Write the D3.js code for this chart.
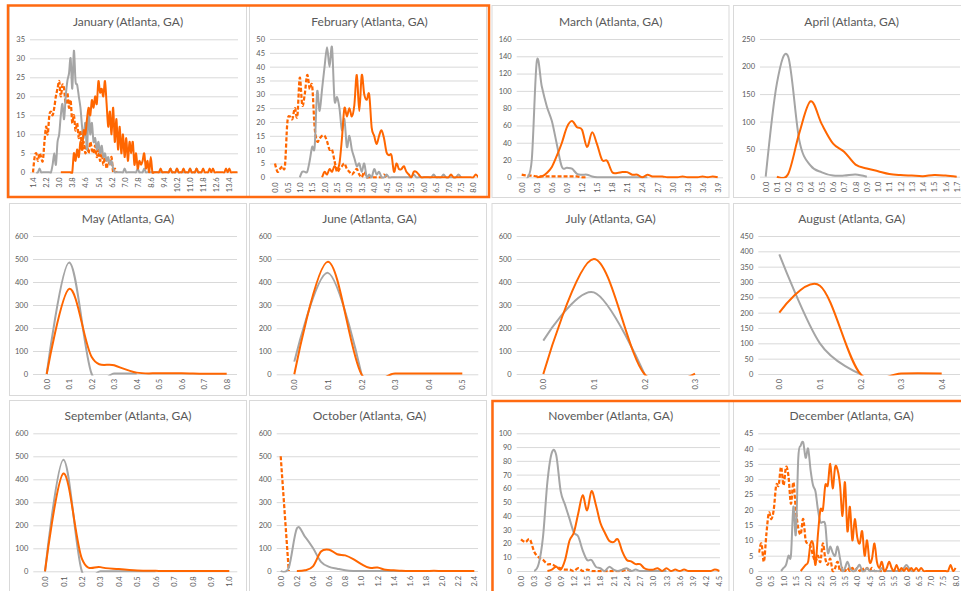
<!DOCTYPE html>
<html>
<head>
<meta charset="utf-8">
<style>
body { margin: 0; background: #fff; }
svg text { font-family: Lato, "Open Sans", sans-serif; fill: #595959; }
</style>
</head>
<body>
<svg width="961" height="591"></svg>
<script src="https://d3js.org/d3.v7.min.js"></script>
<script>

// ---- data (category step 0.1) ----
var janTicks = [1.4, 2.2, 3.0, 3.8, 4.6, 5.4, 6.2, 7.0, 7.8, 8.6, 9.4, 10.2, 11.0, 11.8, 12.6, 13.4];
var janDashed = [0,4,5,3,5,4,3,8,12,10, 15,16,15,17,20,22,24,20,23,22, 18,21,17,19,13,15,11,13,9,11,
                 6,8,5,7,5,8,6,5,7,4, 6,3,5,2,4,1,3,2,4,0, 1,0];
var janGray = [0,0,1,0,0,0,0,0,0,0, 2,5,2,8,10,15,18,14,20,24, 26,30,22,32,24,23,20,17,12,9,
               13,6,16,10,13,8,9,6,8,5, 7,4,5,3,4,2,3,1,0,0, 0,0,0,0,1,0,0,0,0,0,
               0,0,1,0,0,0,1,0,0,0, 0,0,0,0,0,0,0,0,0,0, 0,0,1,0,0,0,1,0,0,0,
               0,0,0,0,1,0,0,0,1,0, 0,0];
var janOrange = [0,0,0,0,0,0,0,0, 5,3,6,4,8,6,11,10,14,17, 15,19,17,20,18,24,21,22,20,24,
                 18,12,16,10,17,8,14,6,12,5, 10,4,9,3,8,5,8,2,5,1, 3,2,3,5,1,3,0,4,0,0,
                 0,0,0,1,0,0,0,0,0,1, 0,0,0,1,0,0,0,1,0,0, 0,1,0,0,0,1,0,0,0,1,
                 0,0,0,1,0,1,0,0,0,0, 0,0,0,1,0,1,0,0,0,0, 0];

var febTicks = [0.0, 0.5, 1.0, 1.5, 2.0, 2.5, 3.0, 3.5, 4.0, 4.5, 5.0, 5.5, 6.0, 6.5, 7.0, 7.5, 8.0];
var febDashed = [5,2,3,4,4,20,22,21,25,22, 36,26,30,37,32,33,18,13,14,15, 15,13,10,10,6,2,3,4,5,3,
                 2,1,2,3,1,0,2,0,0,0, 0,0,0,0,1,0,0];
var febGray = [0,2,2,2,6,11,11,31,24,32, 40,47,40,47,28,29,25,17,21,11, 15,10,7,4,5,2,5,0,1,0,
               3,1,2,0,0,1,0,0,0,0, 0,0,0,0,0,0,1,0,0,0, 0,0,0,0,1,0,0,0,1,0, 0,0,0,0,1,0];
var febOrange = [0,2,1,3,2,4,3,5,14,25, 22,25,22,26,37,24,37,30,28,30, 18,15,12,15,17,14,9,8,8,2,
                 5,3,3,4,2,1,0,2,2,1, 0,0,0,0,0,0,0,0,0,0, 0,0,1,0,0,0,0,0,0,0, 0,0,1,0];

var marTicks = [0.0, 0.3, 0.6, 0.9, 1.2, 1.5, 1.8, 2.1, 2.4, 2.7, 3.0, 3.3, 3.6, 3.9];
var marDashed = [3,2,2,1,1,1,1,1,1,1,1,1,0,0];
var marGray = [0,20,134,105,82,65,38,12,11,10, 4,3,3,1,0,0,0,0,0,0, 0,0,0,0,0];
var marOrange = [0,1,5,12,25,40,58,65,58,55, 35,52,38,20,19,6,5,6,6,3, 3,0,3,1,1,1,0,0,0,1,
                 0,0,0,1,0,1,0];

var aprTicks = [0.0, 0.1, 0.2, 0.3, 0.4, 0.5, 0.6, 0.7, 0.8, 0.9, 1.0, 1.1, 1.2, 1.3, 1.4, 1.5, 1.6, 1.7];
var aprGray = [0,170,218,65,20,8,2,2,4,0];
var aprOrange = [0,5,80,137,95,60,45,22,15,10, 5,3,2,1,3,2,0];

var mayTicks = [0.0, 0.1, 0.2, 0.3, 0.4, 0.5, 0.6, 0.7, 0.8];
var mayGray = [0,485,0,2,2];
var mayOrange = [0,370,74,38,6,3,3,1,1];

var junTicks = [0.0, 0.1, 0.2, 0.3, 0.4, 0.5];
var junGray = [55,440,0];
var junOrange = [0,488,0,3,3,3];

var julTicks = [0.0, 0.1, 0.2, 0.3];
var julGray = [145,355,0];
var julOrange = [0,500,0,2];

var augTicks = [0.0, 0.1, 0.2, 0.3, 0.4];
var augGray = [390,100,0];
var augOrange = [200,288,0,2,2];

var sepTicks = [0.0, 0.1, 0.2, 0.3, 0.4, 0.5, 0.6, 0.7, 0.8, 0.9, 1.0];
var sepGray = [0,485,0,0,0,0,0];
var sepOrange = [0,425,55,18,10,4,2,1,1,1,1];

var octTicks = [0.0, 0.2, 0.4, 0.6, 0.8, 1.0, 1.2, 1.4, 1.6, 1.8, 2.0, 2.2, 2.4];
var octDashed = [500,0];
var octGray = [0,15,185,150,100,40,18,10,3,0, 0,0,0,0,0,0,0];
var octOrange = [0,3,20,85,93,73,68,52,30,14, 15,5,3,1,0,0,0,1,0,0, 0,0,0];

var novTicks = [0.0, 0.3, 0.6, 0.9, 1.2, 1.5, 1.8, 2.1, 2.4, 2.7, 3.0, 3.3, 3.6, 3.9, 4.2, 4.5];
var novDashed = [23,21,23,14,10,8,5,5,3,2, 1,1,0,2,0,1,0,0,0,0, 0,0,0,0,1,0];
var novGray = [0,5,25,65,86,84,58,48,38,28, 25,15,8,8,3,2,0,3,1,0, 1,2,0,1,0,0,0,0,0,0, 0];
var novOrange = [0,1,3,1,8,22,28,42,55,44, 58,48,35,28,22,21,23,14,8,7, 5,5,2,1,1,2,0,2,0,1,
                 0,1,0,0,0,0,0,0,1,0];

var decTicks = [0.0, 0.5, 1.0, 1.5, 2.0, 2.5, 3.0, 3.5, 4.0, 4.5, 5.0, 5.5, 6.0, 6.5, 7.0, 7.5, 8.0];
var decDashed = [6,9,3,12,19,17,20,28,28,34, 28,34,31,22,29,20,14,12,17,10, 9,8,5,3,5,3,9,4,2,4,
                 0,1,3,0,1,0,1,0,1,0, 1,0,1,0,1,0,1,0,0,0, 0];
var decGray = [0,1,2,5,5,21,12,37,41,42, 37,40,33,28,26,20,16,16,15,6, 8,6,5,8,4,0,1,3,1,0,
               0,1,2,0,0,1,0,0,0,0, 0,1,0,0,0,0,0,0,0,0, 1,2,1,0,0];
var decOrange = [0,1,2,3,9,9,2,12,20,20, 28,28,35,27,34,33,28,18,29,13, 21,10,17,11,9,13,5,10,3,4,
                 9,3,1,3,0,1,3,1,0,2, 0,1,0,1,0,1,0,1,0,1, 0,0,0,0,0,0,0,0,0,0, 0,2,0,1];

// ---- layout ----
var colLeft = [9, 249, 491.5, 733],
    rowTop = [5, 203, 400],
    panelW = 237, panelH = 192,
    titleX = [128, 369.5, 610.7, 851.7],
    titleY = [22, 219, 416];

var panels = [
  {title: "January (Atlanta, GA)", col: 0, row: 0, yMax: 35, yStep: 5, ticks: janTicks, tickPx: [33, 229.3], grid: [30, 238], yPx: [172.3, 39.3],
   series: [{kind: "dash", from: 1.4, values: janDashed}, {kind: "gray", from: 1.6, values: janGray}, {kind: "orange", from: 3.1, values: janOrange}]},
  {title: "February (Atlanta, GA)", col: 1, row: 0, yMax: 50, yStep: 5, ticks: febTicks, tickPx: [275, 473.3], grid: [270, 478], yPx: [177.3, 39],
   series: [{kind: "dash", from: 0, values: febDashed}, {kind: "gray", from: 1.0, values: febGray}, {kind: "orange", from: 1.9, values: febOrange}]},
  {title: "March (Atlanta, GA)", col: 2, row: 0, yMax: 160, yStep: 20, ticks: marTicks, tickPx: [521.7, 717.7], grid: [516.7, 723], yPx: [177.3, 39],
   series: [{kind: "dash", from: 0, values: marDashed}, {kind: "gray", from: 0.1, values: marGray}, {kind: "orange", from: 0.3, values: marOrange}]},
  {title: "April (Atlanta, GA)", col: 3, row: 0, yMax: 250, yStep: 50, ticks: aprTicks, tickPx: [765.7, 956.7], grid: [760, 960], yPx: [176.7, 39],
   series: [{kind: "gray", from: 0, values: aprGray}, {kind: "orange", from: 0.1, values: aprOrange}]},
  {title: "May (Atlanta, GA)", col: 0, row: 1, yMax: 600, yStep: 100, ticks: mayTicks, tickPx: [46.7, 226.7], grid: [33, 237], yPx: [374, 236],
   series: [{kind: "gray", from: 0, values: mayGray}, {kind: "orange", from: 0, values: mayOrange}]},
  {title: "June (Atlanta, GA)", col: 1, row: 1, yMax: 600, yStep: 100, ticks: junTicks, tickPx: [294.3, 462.3], grid: [276.7, 478.3], yPx: [374.3, 236],
   series: [{kind: "gray", from: 0, values: junGray}, {kind: "orange", from: 0, values: junOrange}]},
  {title: "July (Atlanta, GA)", col: 2, row: 1, yMax: 600, yStep: 100, ticks: julTicks, tickPx: [543.3, 695], grid: [516.7, 720], yPx: [374, 236],
   series: [{kind: "gray", from: 0, values: julGray}, {kind: "orange", from: 0, values: julOrange}]},
  {title: "August (Atlanta, GA)", col: 3, row: 1, yMax: 450, yStep: 50, ticks: augTicks, tickPx: [779.3, 941.7], grid: [758.3, 960], yPx: [374, 236],
   series: [{kind: "gray", from: 0, values: augGray}, {kind: "orange", from: 0, values: augOrange}]},
  {title: "September (Atlanta, GA)", col: 0, row: 2, yMax: 600, yStep: 100, ticks: sepTicks, tickPx: [45, 229.3], grid: [33.3, 237.3], yPx: [571.3, 433.3],
   series: [{kind: "gray", from: 0, values: sepGray}, {kind: "orange", from: 0, values: sepOrange}]},
  {title: "October (Atlanta, GA)", col: 1, row: 2, yMax: 600, yStep: 100, ticks: octTicks, tickPx: [280.7, 474.3], grid: [276.7, 478], yPx: [571, 433.3],
   series: [{kind: "dash", from: 0, values: octDashed}, {kind: "gray", from: 0, values: octGray}, {kind: "orange", from: 0.2, values: octOrange}]},
  {title: "November (Atlanta, GA)", col: 2, row: 2, yMax: 100, yStep: 10, ticks: novTicks, tickPx: [521, 719.3], grid: [516.7, 720], yPx: [571, 433.3],
   series: [{kind: "dash", from: 0, values: novDashed}, {kind: "gray", from: 0.3, values: novGray}, {kind: "orange", from: 0.6, values: novOrange}]},
  {title: "December (Atlanta, GA)", col: 3, row: 2, yMax: 45, yStep: 5, ticks: decTicks, tickPx: [759, 955.5], grid: [758.3, 960], yPx: [571, 433.3],
   series: [{kind: "dash", from: 0, values: decDashed}, {kind: "gray", from: 0.9, values: decGray}, {kind: "orange", from: 1.7, values: decOrange}]}
];

var styles = {
  gray:   {stroke: "#a5a5a5", width: 2, dash: null},
  orange: {stroke: "#ff6600", width: 2, dash: null},
  dash:   {stroke: "#ff6600", width: 2.25, dash: "4,2"}
};

var svg = d3.select("svg");
var fmt1 = d3.format(".1f");
var catStep = 0.1;

panels.forEach(function(p, i) {
  var g = svg.append("g");

  g.append("rect")
      .attr("x", colLeft[p.col] + 0.5)
      .attr("y", rowTop[p.row] + 0.5)
      .attr("width", panelW)
      .attr("height", panelH)
      .attr("fill", "#fff")
      .attr("stroke", "#d9d9d9");

  g.append("text")
      .attr("x", titleX[p.col])
      .attr("y", titleY[p.row])
      .attr("dy", "0.35em")
      .attr("text-anchor", "middle")
      .style("font-size", "12px")
      .text(p.title);

  var x = d3.scaleLinear()
      .domain([p.ticks[0], p.ticks[p.ticks.length - 1]])
      .range(p.tickPx);
  var y = d3.scaleLinear()
      .domain([0, p.yMax])
      .range(p.yPx);

  var yTicks = d3.range(0, p.yMax + 1, p.yStep);

  // y axis + horizontal gridlines
  var ya = g.append("g")
      .attr("transform", "translate(" + p.grid[0] + ",0)")
      .call(d3.axisLeft(y).tickValues(yTicks).tickSize(-(p.grid[1] - p.grid[0])).tickPadding(5));
  ya.select(".domain").remove();
  ya.selectAll("line").attr("stroke", "#d9d9d9");
  ya.selectAll("text").style("font-size", "7.5px").attr("fill", "#595959");

  // x axis labels, rotated
  var xa = g.append("g")
      .attr("transform", "translate(0," + p.yPx[0] + ")")
      .call(d3.axisBottom(x).tickValues(p.ticks).tickFormat(fmt1).tickSize(0));
  xa.select(".domain").remove();
  xa.selectAll("text")
      .attr("transform", "rotate(-90)")
      .attr("x", -5)
      .attr("y", 0)
      .attr("dy", "0.35em")
      .attr("text-anchor", "end")
      .style("font-size", "7.5px")
      .attr("fill", "#595959");

  // plot area clip
  svg.append("clipPath").attr("id", "clip" + i)
    .append("rect")
      .attr("x", p.grid[0])
      .attr("y", p.yPx[1] - 3)
      .attr("width", p.grid[1] - p.grid[0])
      .attr("height", p.yPx[0] - p.yPx[1] + 4.5);

  var plot = g.append("g").attr("clip-path", "url(#clip" + i + ")");

  var line = d3.line()
      .x(function(d) { return x(d[0]); })
      .y(function(d) { return y(d[1]); })
      .curve(d3.curveCardinal.tension(0));

  p.series.forEach(function(s) {
    var pts = s.values.map(function(v, j) { return [s.from + j * catStep, v]; });
    var st = styles[s.kind];
    plot.append("path")
        .datum(pts)
        .attr("fill", "none")
        .attr("stroke", st.stroke)
        .attr("stroke-width", st.width)
        .attr("stroke-dasharray", st.dash)
        .attr("stroke-linejoin", "round")
        .attr("d", line);
  });
});

// orange highlight frames
svg.append("rect")
    .attr("x", 8).attr("y", 5.5)
    .attr("width", 481).attr("height", 191.5)
    .attr("fill", "none").attr("stroke", "#ff6a10").attr("stroke-width", 2.5);
svg.append("rect")
    .attr("x", 492.5).attr("y", 401)
    .attr("width", 480).attr("height", 200)
    .attr("fill", "none").attr("stroke", "#ff6a10").attr("stroke-width", 2.5);

</script>
</body>
</html>
